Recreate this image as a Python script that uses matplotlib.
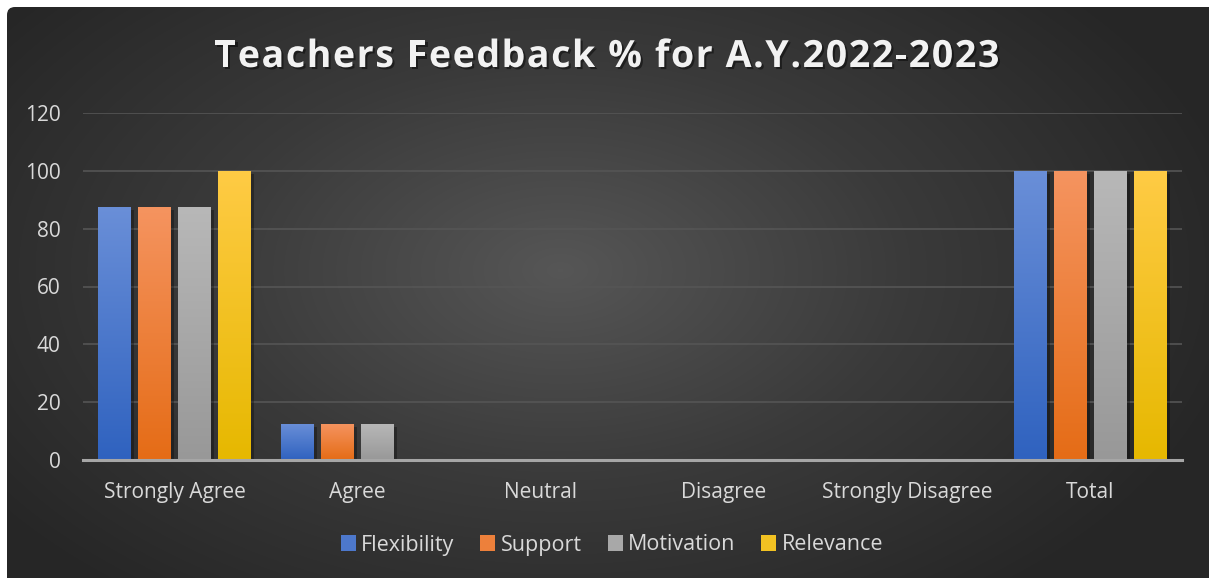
import numpy as np
import matplotlib
matplotlib.use("Agg")
import matplotlib.pyplot as plt
from matplotlib.colors import LinearSegmentedColormap, to_rgb, to_hex
from matplotlib.patches import FancyBboxPatch
from matplotlib.font_manager import FontProperties
import matplotlib.patheffects as pe

# Data
categories = ["Strongly Agree", "Agree", "Neutral", "Disagree", "Strongly Disagree", "Total"]
flexibility = [87.5, 12.5, 0, 0, 0, 100]
support = [87.5, 12.5, 0, 0, 0, 100]
motivation = [87.5, 12.5, 0, 0, 0, 100]
relevance = [100, 0, 0, 0, 0, 100]
series_names = ["Flexibility", "Support", "Motivation", "Relevance"]
title_text = "Teachers Feedback % for A.Y.2022-2023"

# (top colour, bottom colour) for gradient bars
bar_colors = [("#6a8fd8", "#2f62bf"), ("#f59460", "#e56c16"),
              ("#b8b8b8", "#989898"), ("#ffcb45", "#e6b800")]

W, H = 1209, 578
fig = plt.figure(figsize=(W / 100, H / 100), dpi=100)
fig.patch.set_facecolor("white")

# background panel with radial gradient
bg = fig.add_axes([0, 0, 1, 1])
bg.set_xlim(0, W)
bg.set_ylim(H, 0)
bg.axis("off")
yy, xx = np.mgrid[0:H, 0:W]
r = np.sqrt(((xx - 560) / 700.0) ** 2 + ((yy - 270) / 420.0) ** 2)
r = np.clip(r, 0, 1)
bg_cmap = LinearSegmentedColormap.from_list("bg", ["#565656", "#3a3a3a", "#262626"])
img = bg.imshow(r, cmap=bg_cmap, extent=[0, W, H, 0], aspect="auto", zorder=0)
panel = FancyBboxPatch((7, 7), W + 20, H + 20, boxstyle="round,pad=0,rounding_size=8",
                       facecolor="none", edgecolor="none", transform=bg.transData)
bg.add_patch(panel)
img.set_clip_path(panel)

# main plot area
ax = fig.add_axes([83 / W, 1 - 460 / H, (1182 - 83) / W, (460 - 113) / H])
ax.set_facecolor("none")
x = np.arange(len(categories))
bw = 0.18
step = 0.218
all_series = [flexibility, support, motivation, relevance]

grad = np.linspace(0, 1, 256).reshape(-1, 1)
for i, (vals, name) in enumerate(zip(all_series, series_names)):
    top, bot = bar_colors[i]
    cm = LinearSegmentedColormap.from_list(name, [bot, top])
    bars = ax.bar(x + (i - 1.5) * step, vals, bw, color=top, label=name, zorder=3,
                  edgecolor="none")
    for b in bars:
        if b.get_height() <= 0:
            continue
        b.set_path_effects([pe.SimplePatchShadow(offset=(2, -2), shadow_rgbFace="black", alpha=0.3),
                            pe.Normal()])
        bx, by = b.get_x(), b.get_y()
        im = ax.imshow(grad, cmap=cm, extent=[bx, bx + b.get_width(), by, by + b.get_height()],
                       origin="lower", aspect="auto", zorder=4)
        im.set_clip_path(b)

ax.set_xlim(-0.5, len(categories) - 0.5)
ax.set_ylim(0, 120)
ax.set_yticks(np.arange(0, 121, 20))
ax.set_xticks(x)
ax.set_xticklabels(categories)
ax.grid(axis="y", color="#555555", linewidth=1.2, zorder=1)
ax.set_axisbelow(True)
for s in ["top", "right", "left"]:
    ax.spines[s].set_visible(False)
ax.spines["bottom"].set_color("#a6a6a6")
ax.spines["bottom"].set_linewidth(2.2)
ax.spines["bottom"].set_zorder(5)
ax.tick_params(axis="both", length=0, colors="#d9d9d9", labelsize=15)
ax.tick_params(axis="x", pad=16)
ax.tick_params(axis="y", pad=16)
for lab in ax.get_xticklabels() + ax.get_yticklabels():
    lab.set_fontfamily("Open Sans")

handles = []
for top, bot in bar_colors:
    mid = (np.array(to_rgb(top)) + np.array(to_rgb(bot))) / 2
    handles.append(plt.Rectangle((0, 0), 1, 1, facecolor=to_hex(mid), edgecolor="none"))
leg = fig.legend(handles, series_names, loc="center", bbox_to_anchor=(612 / W, 1 - 545 / H),
                 ncol=4, frameon=False, handlelength=0.7, handleheight=0.7,
                 handletextpad=0.25, columnspacing=1.2,
                 prop={"family": "Open Sans", "size": 15.5})
for t in leg.get_texts():
    t.set_color("#d9d9d9")

# letter-spaced title, laid out char by char
tprop = FontProperties(family="Open Sans", weight="bold", size=27)
renderer = fig.canvas.get_renderer()
widths = [renderer.get_text_width_height_descent(c, tprop, ismath=False)[0] for c in title_text]
target_w = 785
gap = (target_w - sum(widths)) / (len(title_text) - 1)
px = 607 - target_w / 2
for c, w in zip(title_text, widths):
    t = fig.text(px / W, 1 - 57 / H, c, ha="left", va="center", color="#f2f2f2",
                 fontproperties=tprop)
    t.set_path_effects([pe.SimplePatchShadow(offset=(1.5, -1.5), shadow_rgbFace="black", alpha=0.45),
                        pe.Normal()])
    px += w + gap

fig.savefig("out.png", dpi=100)
